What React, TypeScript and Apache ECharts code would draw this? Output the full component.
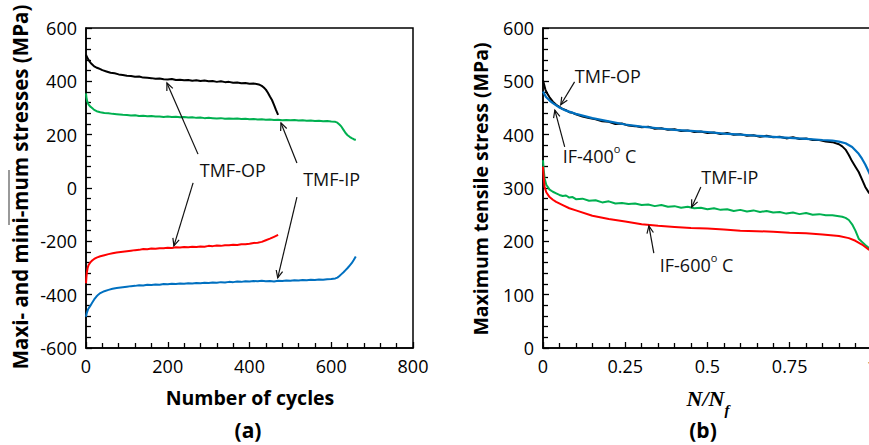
import React, { useEffect, useRef } from "react";
import * as echarts from "echarts";

// ---------- Panel (a): stress vs number of cycles ----------
const aOpMax: [number, number][] = [
  [0, 500], [2, 492], [5, 484], [8, 476], [12, 468], [16, 462], [20, 456], [25, 452], [30, 449], [35, 446],
  [40, 442], [50, 437], [60, 432], [70, 430], [80, 426], [90, 424], [100, 421], [110, 420], [120, 417], [130, 418],
  [140, 414], [150, 413], [160, 412], [170, 410], [180, 411], [190, 408], [200, 407], [210, 409], [220, 405], [230, 406],
  [240, 404], [250, 405], [260, 402], [270, 404], [280, 401], [290, 403], [300, 400], [310, 401], [320, 398], [330, 400],
  [340, 397], [350, 398], [360, 395], [370, 396], [380, 393], [390, 394], [400, 391], [410, 392], [420, 389], [425, 387],
  [430, 383], [435, 377], [440, 369], [445, 357], [450, 343], [455, 330], [460, 312], [465, 292], [470, 274],
];
const aIpMax: [number, number][] = [
  [0, 355], [1, 340], [3, 325], [6, 314], [10, 306], [15, 300], [20, 293], [26, 288], [35, 284], [45, 281],
  [55, 280], [65, 278], [75, 277], [90, 275], [100, 274], [110, 272], [120, 273], [130, 270], [140, 271], [150, 269],
  [160, 270], [170, 268], [180, 268], [190, 266], [200, 268], [210, 266], [220, 267], [230, 265], [240, 266], [250, 264],
  [260, 265], [270, 263], [280, 264], [290, 262], [300, 263], [310, 262], [320, 261], [330, 262], [340, 260], [350, 261],
  [360, 260], [370, 261], [380, 259], [390, 260], [400, 258], [410, 259], [420, 257], [430, 258], [440, 256], [450, 257],
  [460, 255], [470, 256], [480, 254], [490, 255], [500, 254], [510, 255], [520, 253], [530, 254], [540, 252], [550, 253],
  [560, 251], [570, 252], [580, 250], [590, 251], [600, 249], [610, 248], [615, 245], [620, 238], [625, 230], [630, 218],
  [635, 206], [640, 198], [645, 192], [650, 187], [655, 183], [660, 180],
];
const aOpMin: [number, number][] = [
  [0, -357], [1, -335], [2, -318], [4, -300], [6, -290], [10, -280], [15, -272], [20, -266], [26, -261], [35, -256],
  [45, -252], [55, -248], [65, -245], [75, -242], [90, -239], [100, -237], [110, -235], [120, -233], [130, -232], [140, -229],
  [150, -230], [160, -227], [170, -228], [180, -226], [190, -226], [200, -224], [210, -225], [220, -222], [230, -223], [240, -221],
  [250, -222], [260, -220], [270, -221], [280, -219], [290, -220], [300, -217], [310, -218], [320, -216], [330, -217], [340, -215],
  [350, -215], [360, -213], [370, -214], [380, -211], [390, -211], [400, -209], [410, -206], [420, -205], [430, -202], [440, -196],
  [450, -190], [460, -183], [470, -176],
];
const aIpMin: [number, number][] = [
  [0, -483], [2, -468], [5, -455], [10, -443], [15, -430], [20, -418], [25, -408], [30, -400], [35, -394], [45, -387],
  [55, -382], [65, -378], [75, -375], [90, -372], [100, -370], [110, -368], [120, -367], [130, -365], [140, -366], [150, -363],
  [160, -364], [170, -362], [180, -363], [190, -360], [200, -361], [210, -359], [220, -360], [230, -358], [240, -359], [250, -357],
  [260, -358], [270, -356], [280, -357], [290, -355], [300, -356], [310, -354], [320, -355], [330, -353], [340, -354], [350, -352],
  [360, -353], [370, -351], [380, -352], [390, -350], [400, -351], [410, -349], [420, -350], [430, -348], [440, -350], [450, -349],
  [460, -351], [470, -348], [480, -349], [490, -347], [500, -348], [510, -346], [520, -347], [530, -345], [540, -346], [550, -344],
  [560, -345], [570, -343], [580, -344], [590, -342], [600, -341], [610, -339], [615, -336], [620, -330], [625, -323], [630, -316],
  [635, -308], [640, -300], [645, -291], [650, -282], [655, -270], [660, -257],
];

// ---------- Panel (b): maximum tensile stress vs N/Nf ----------
const bTmfOp: [number, number][] = [
  [0, 502], [0.003, 495], [0.007, 485], [0.012, 478], [0.02, 470], [0.03, 462], [0.04, 456], [0.05, 452], [0.06, 448], [0.07, 446],
  [0.08, 442], [0.09, 441], [0.1, 438], [0.12, 434], [0.14, 431], [0.16, 429], [0.18, 425], [0.2, 424], [0.22, 420], [0.24, 421],
  [0.26, 417], [0.28, 416], [0.3, 414], [0.32, 415], [0.34, 411], [0.36, 412], [0.38, 409], [0.4, 410], [0.42, 407], [0.44, 408],
  [0.46, 405], [0.48, 406], [0.5, 403], [0.52, 404], [0.54, 401], [0.56, 403], [0.58, 400], [0.6, 401], [0.62, 398], [0.64, 399],
  [0.66, 396], [0.68, 398], [0.7, 395], [0.72, 396], [0.74, 393], [0.76, 395], [0.78, 392], [0.8, 393], [0.82, 390], [0.84, 390],
  [0.86, 387], [0.88, 386], [0.9, 382], [0.91, 378], [0.92, 372], [0.93, 362], [0.94, 350], [0.95, 340], [0.96, 330], [0.97, 316],
  [0.98, 302], [0.99, 292], [1.0, 285],
];
const bIf400: [number, number][] = [
  [0, 481], [0.005, 475], [0.01, 470], [0.02, 464], [0.03, 459], [0.05, 451], [0.07, 445], [0.1, 439], [0.15, 431], [0.2, 425],
  [0.25, 419], [0.3, 415], [0.35, 412], [0.4, 409], [0.45, 407], [0.5, 405], [0.55, 402], [0.6, 400], [0.65, 398], [0.7, 396],
  [0.75, 394], [0.8, 392], [0.85, 390], [0.88, 389], [0.9, 387], [0.92, 384], [0.94, 377], [0.96, 364], [0.97, 355], [0.98, 344],
  [0.99, 331], [1.0, 318],
];
const bTmfIp: [number, number][] = [
  [0, 352], [0.002, 335], [0.005, 318], [0.01, 306], [0.02, 297], [0.03, 293], [0.04, 290], [0.05, 287], [0.06, 285], [0.07, 286],
  [0.08, 282], [0.09, 283], [0.1, 279], [0.12, 280], [0.14, 276], [0.16, 277], [0.18, 273], [0.2, 275], [0.22, 271], [0.24, 272],
  [0.26, 270], [0.28, 271], [0.3, 268], [0.32, 269], [0.34, 266], [0.36, 268], [0.38, 265], [0.4, 266], [0.42, 263], [0.44, 265],
  [0.46, 262], [0.48, 263], [0.5, 260], [0.52, 262], [0.54, 259], [0.56, 260], [0.58, 257], [0.6, 259], [0.62, 256], [0.64, 258],
  [0.66, 255], [0.68, 257], [0.7, 254], [0.72, 255], [0.74, 252], [0.76, 254], [0.78, 251], [0.8, 253], [0.82, 250], [0.84, 251],
  [0.86, 249], [0.88, 249], [0.9, 247], [0.91, 246], [0.92, 244], [0.93, 240], [0.94, 232], [0.95, 220], [0.96, 205], [0.97, 199],
  [0.98, 193], [0.99, 188], [1.0, 183],
];
const bIf600: [number, number][] = [
  [0, 340], [0.002, 320], [0.005, 302], [0.01, 292], [0.02, 283], [0.03, 278], [0.04, 274], [0.06, 268], [0.08, 262], [0.1, 258],
  [0.15, 248], [0.2, 242], [0.25, 237], [0.3, 232], [0.35, 229], [0.4, 227], [0.45, 225], [0.5, 224], [0.55, 222], [0.6, 220],
  [0.65, 219], [0.7, 218], [0.75, 216], [0.8, 215], [0.85, 213], [0.9, 210], [0.93, 206], [0.95, 201], [0.97, 194], [0.99, 185],
  [1.0, 180],
];

// Annotation anchors (data coordinates)
const aLabels = [
  { text: "TMF-OP", at: [359, 67] },
  { text: "TMF-IP", at: [601, 34] },
];
const aArrows = [
  { tail: [274, 127], head: [198, 394] },
  { tail: [262, 19], head: [215, -217] },
  { tail: [516, 94], head: [477, 244] },
  { tail: [516, -34], head: [469, -337] },
];
const bLabels = [
  { text: "TMF-OP", at: [0.197, 510] },
  { text: "IF-400|o| C", at: [0.172, 364] },
  { text: "TMF-IP", at: [0.568, 321] },
  { text: "IF-600|o| C", at: [0.467, 159] },
];
const bArrows = [
  { tail: [0.096, 499], head: [0.054, 456] },
  { tail: [0.066, 377], head: [0.036, 446] },
  { tail: [0.48, 302], head: [0.452, 264] },
  { tail: [0.337, 178], head: [0.322, 229] },
];

const FONT = "'Open Sans', 'Liberation Sans', sans-serif";
const BLACK = "#000000";
const GREEN = "#00b050";
const RED = "#ff0000";
const BLUE = "#0070c0";

function axisCommon() {
  return {
    axisLine: { show: true, onZero: false, lineStyle: { color: "#000", width: 1.5 } },
    axisTick: { show: true, inside: true, length: 6, lineStyle: { color: "#000", width: 1.3 } },
    minorTick: { show: true, splitNumber: 5, length: 5, lineStyle: { color: "#000", width: 1.3 } },
    splitLine: { show: false },
    axisLabel: { color: "#000", fontSize: 18, fontFamily: FONT, margin: 9 },
  };
}

function lineSeries(data: [number, number][], color: string, idx: number, width = 2) {
  return {
    type: "line",
    data,
    xAxisIndex: idx,
    yAxisIndex: idx,
    showSymbol: false,
    symbol: "none",
    clip: true,
    lineStyle: { color, width },
    z: 3,
  };
}

function makeLabel(text: string, x: number, y: number) {
  if (text.includes("|o|")) {
    const [pre, post] = text.split("|o|");
    return {
      type: "text",
      x,
      y,
      z: 10,
      style: {
        text: `{a|${pre}}{s|o}{a|${post}}`,
        align: "center",
        verticalAlign: "middle",
        rich: {
          a: { fontSize: 18, fontFamily: FONT, fill: "#111", lineHeight: 22, verticalAlign: "bottom" },
          s: { fontSize: 11, fontFamily: FONT, fill: "#111", lineHeight: 22, verticalAlign: "top" },
        },
      },
    };
  }
  return {
    type: "text",
    x,
    y,
    z: 10,
    style: { text, fill: "#111", font: `18px ${FONT}`, align: "center", verticalAlign: "middle" },
  };
}

function makeArrow(t: number[], h: number[]) {
  const ang = Math.atan2(t[1] - h[1], t[0] - h[0]);
  const L = 8;
  const sp = 0.42;
  const p1 = [h[0] + L * Math.cos(ang + sp), h[1] + L * Math.sin(ang + sp)];
  const p2 = [h[0] + L * Math.cos(ang - sp), h[1] + L * Math.sin(ang - sp)];
  return [
    {
      type: "line",
      z: 10,
      shape: { x1: t[0], y1: t[1], x2: h[0], y2: h[1] },
      style: { stroke: "#111", lineWidth: 1.2 },
    },
    {
      type: "polyline",
      z: 10,
      shape: { points: [p1, h, p2] },
      style: { stroke: "#111", lineWidth: 1.2, fill: null },
    },
  ];
}

export default function App() {
  const ref = useRef<HTMLDivElement>(null);

  useEffect(() => {
    if (!ref.current) return;
    const chart = echarts.init(ref.current, undefined, { renderer: "svg" });
    const option: any = {
      animation: false,
      backgroundColor: "#ffffff",
      grid: [
        { left: 86, top: 28, width: 327, height: 320, show: true, borderColor: "#000", borderWidth: 1.5, backgroundColor: "transparent" },
        { left: 543, top: 28, width: 329, height: 320, show: true, borderColor: "#000", borderWidth: 1.5, backgroundColor: "transparent" },
      ],
      xAxis: [
        { type: "value", gridIndex: 0, min: 0, max: 800, interval: 200, ...axisCommon() },
        { type: "value", gridIndex: 1, min: 0, max: 1, interval: 0.25, ...axisCommon() },
      ],
      yAxis: [
        { type: "value", gridIndex: 0, min: -600, max: 600, interval: 200, ...axisCommon() },
        { type: "value", gridIndex: 1, min: 0, max: 600, interval: 100, ...axisCommon() },
      ],
      series: [
        lineSeries(aOpMax, BLACK, 0),
        lineSeries(aIpMax, GREEN, 0),
        lineSeries(aOpMin, RED, 0),
        lineSeries(aIpMin, BLUE, 0),
        lineSeries(bTmfOp, BLACK, 1),
        lineSeries(bTmfIp, GREEN, 1),
        lineSeries(bIf600, RED, 1, 2),
        lineSeries(bIf400, BLUE, 1, 2.2),
      ],
    };
    chart.setOption(option);

    const px = (g: number, p: number[]) => chart.convertToPixel({ gridIndex: g } as any, p) as number[];
    const graphics: any[] = [];
    aLabels.forEach((l) => {
      const p = px(0, l.at);
      graphics.push(makeLabel(l.text, p[0], p[1]));
    });
    aArrows.forEach((a) => graphics.push(...makeArrow(px(0, a.tail), px(0, a.head))));
    bLabels.forEach((l) => {
      const p = px(1, l.at);
      graphics.push(makeLabel(l.text, p[0], p[1]));
    });
    bArrows.forEach((a) => graphics.push(...makeArrow(px(1, a.tail), px(1, a.head))));

    // Axis titles and panel captions
    graphics.push(
      {
        type: "text",
        x: 20,
        y: 187,
        rotation: Math.PI / 2,
        style: { text: "Maxi- and mini-mum stresses (MPa)", fill: "#000", font: `bold 20.5px ${FONT}`, align: "center", verticalAlign: "middle" },
      },
      { type: "line", shape: { x1: 9, y1: 170, x2: 9, y2: 225 }, style: { stroke: "#555", lineWidth: 1.2 } },
      {
        type: "text",
        x: 250,
        y: 397,
        style: { text: "Number of cycles", fill: "#000", font: `bold 19.5px ${FONT}`, align: "center", verticalAlign: "middle" },
      },
      {
        type: "text",
        x: 248,
        y: 430,
        style: { text: "(a)", fill: "#000", font: `bold 21px ${FONT}`, align: "center", verticalAlign: "middle" },
      },
      {
        type: "text",
        x: 480,
        y: 189,
        rotation: Math.PI / 2,
        style: { text: "Maximum tensile stress (MPa)", fill: "#000", font: `bold 19.5px ${FONT}`, align: "center", verticalAlign: "middle" },
      },
      {
        type: "text",
        x: 708,
        y: 402,
        style: {
          text: "{n|N/N}{f|f}",
          align: "center",
          verticalAlign: "middle",
          rich: {
            n: { fontSize: 22, fontFamily: "'Liberation Serif', 'DejaVu Serif', serif", fontStyle: "italic", fontWeight: "bold", fill: "#000", lineHeight: 30, verticalAlign: "top" },
            f: { fontSize: 15, fontFamily: "'Liberation Serif', 'DejaVu Serif', serif", fontStyle: "italic", fontWeight: "bold", fill: "#000", lineHeight: 30, verticalAlign: "bottom" },
          },
        },
      },
      {
        type: "text",
        x: 703,
        y: 430,
        style: { text: "(b)", fill: "#000", font: `bold 21px ${FONT}`, align: "center", verticalAlign: "middle" },
      }
    );

    chart.setOption({ graphic: graphics });

    return () => chart.dispose();
  }, []);

  return (
    <div style={{ position: "fixed", left: 0, top: 0, width: 869, height: 445, overflow: "hidden", background: "#fff" }}>
      <div ref={ref} style={{ width: 880, height: 445 }} />
    </div>
  );
}
